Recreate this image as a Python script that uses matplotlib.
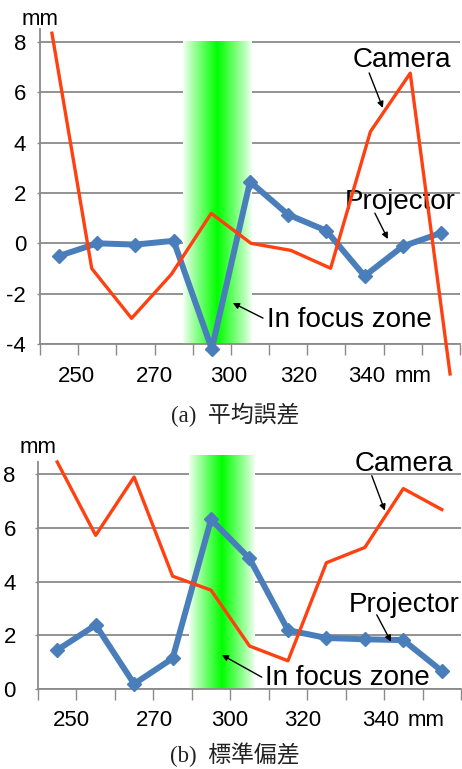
import numpy as np
import matplotlib.pyplot as plt

plt.rcParams['font.family'] = ['Liberation Sans', 'Noto Sans CJK JP']
plt.rcParams['axes.unicode_minus'] = False

# values (one point per category)
mean_projector = [-0.5, 0.0, -0.05, 0.1, -4.2, 2.45, 1.14, 0.5, -1.3, -0.12, 0.41]
mean_camera = [8.35, -1.0, -2.98, -1.23, 1.19, 0.0, -0.28, -0.99, 4.44, 6.76, -5.19]
std_projector = [1.45, 2.38, 0.19, 1.14, 6.31, 4.86, 2.19, 1.9, 1.85, 1.82, 0.67]
std_camera = [8.45, 5.72, 7.89, 4.2, 3.68, 1.6, 1.05, 4.7, 5.27, 7.46, 6.68]
xtick_labels = ['250', '270', '300', '320', '340', 'mm']
captions = ['(a)  平均誤差', '(b)  標準偏差']

BLUE = '#4a7ebb'
RED = '#ff4010'
GRAY = '#8a8a8a'
W, H = 462, 769

fig = plt.figure(figsize=(W / 100, H / 100), dpi=100)


def box(l, r, t, b):
    # pixel box -> figure fraction
    return [l / W, 1 - b / H, (r - l) / W, (b - t) / H]


def green_band(ax, x0, x1, y0, y1):
    t = np.linspace(-1, 1, 200)
    a = np.clip(1.0 - np.abs(t), 0, 1) ** 0.9
    a = 0.04 + 0.96 * a
    img = np.ones((1, len(t), 3))
    img[0, :, 0] = 1 - a
    img[0, :, 2] = 1 - a
    ax.imshow(img, extent=(x0, x1, y0, y1), aspect='auto', zorder=1.5,
              interpolation='bilinear', clip_on=False)


def style(ax, ylim, yticks, lab_pos, ypad, xpad):
    ax.set_xlim(-0.5, 10.5)
    ax.set_ylim(*ylim)
    ax.set_yticks(yticks)
    ax.grid(axis='y', color=GRAY, lw=1.3)
    ax.set_axisbelow(True)
    for s in ['top', 'right']:
        ax.spines[s].set_visible(False)
    for s in ['left', 'bottom']:
        ax.spines[s].set_color(GRAY)
        ax.spines[s].set_linewidth(1.3)
    ax.xaxis.remove_overlapping_locs = False
    ax.set_xticks(np.arange(-0.5, 11, 1))
    ax.set_xticklabels([])
    ax.set_xticks(lab_pos, minor=True)
    ax.set_xticklabels(xtick_labels, minor=True)
    ax.tick_params(axis='x', which='major', length=8, width=1, color=GRAY, direction='out')
    ax.tick_params(axis='x', which='minor', length=0, labelsize=16, pad=xpad)
    ax.tick_params(axis='y', length=2, width=1, color=GRAY, labelsize=16, pad=ypad)


def label(ax, txt, pos, tail, head):
    ax.text(pos[0], pos[1], txt, fontsize=20, ha='left', va='baseline', zorder=6)
    ax.annotate('', xy=head, xytext=tail,
                arrowprops=dict(arrowstyle='-|>', color='black', lw=1.0,
                                mutation_scale=9, shrinkA=0, shrinkB=0),
                zorder=6)


x = np.arange(len(mean_projector))

# (a) mean error
ax1 = fig.add_axes(box(40, 460, 29.4, 344))
green_band(ax1, 3.25, 5.05, -4, 8)
ax1.plot(x, mean_projector, color=BLUE, lw=4.3, marker='D', ms=7.5, zorder=3,
         clip_on=False)
style(ax1, (-4, 8.5), [-4, -2, 0, 2, 4, 6, 8],
      [0.45, 2.5, 4.45, 6.28, 8.06, 9.27], 8, 16)

# camera series sits on a slightly wider category spacing in the original
ax1c = fig.add_axes(box(40, 460, 29.4, 344))
ax1c.set_xlim(-0.30, 10.25)
ax1c.set_ylim(-4, 8.5)
ax1c.axis('off')
ax1c.plot(x, mean_camera, color=RED, lw=2.4, clip_on=False, zorder=4)

label(ax1, 'Camera', (7.69, 7.02), (8.12, 6.77), (8.48, 5.38))
label(ax1, 'Projector', (7.49, 1.36), (8.27, 1.20), (8.61, 0.17))
label(ax1, 'In focus zone', (5.44, -3.32), (5.34, -2.97), (4.55, -2.37))

# (b) standard deviation
ax2 = fig.add_axes(box(38, 461, 462, 689))
green_band(ax2, 3.43, 5.14, 0, 8.7)
ax2.plot(x, std_projector, color=BLUE, lw=4.3, marker='D', ms=7.5, zorder=3,
         clip_on=False)
ax2.plot(x, std_camera, color=RED, lw=2.4, clip_on=False, zorder=4)
style(ax2, (0, 8.45), [0, 2, 4, 6, 8],
      [0.38, 2.54, 4.49, 6.37, 8.42, 9.59], 14, 15)

label(ax2, 'Camera', (7.74, 8.10), (8.18, 7.94), (8.52, 6.64))
label(ax2, 'Projector', (7.57, 2.88), (8.31, 2.76), (8.68, 1.76))
label(ax2, 'In focus zone', (5.40, 0.15), (5.32, 0.44), (4.28, 1.27))

# unit labels
fig.text(40 / W, 1 - 25 / H, 'mm', fontsize=16, ha='center', va='baseline')
fig.text(38 / W, 1 - 453 / H, 'mm', fontsize=16, ha='center', va='baseline')

# captions
for txt, yp in zip(captions, [415, 755]):
    fig.text(235 / W, 1 - yp / H, txt, fontsize=16.5, ha='center', va='center',
             family=['Liberation Serif', 'Noto Sans CJK JP'], color='#222222')

fig.savefig('out.png', dpi=100)
